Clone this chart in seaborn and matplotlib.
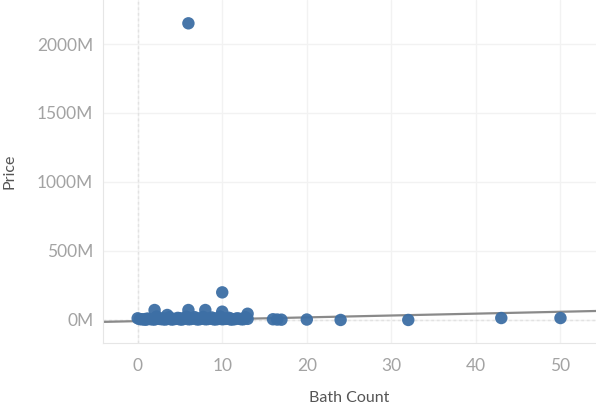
import numpy as np
import pandas as pd
import seaborn as sns
import matplotlib.pyplot as plt

# bath count vs price (in millions)
bath = [0, 0.5, 1, 1, 1.5, 2, 2, 2.5, 3, 3, 3.5, 4, 4, 4.5, 5, 5, 5.5, 6, 6,
        6.5, 7, 7, 7.5, 8, 8, 8.5, 9, 9, 9.5, 10, 10, 10.5, 11, 11, 11.5, 12,
        12.5, 13, 0.25, 0.75, 1.25, 1.75, 2.25, 2.75, 3.25, 3.75, 4.25, 4.75,
        5.25, 5.75, 6.25, 6.75, 7.25, 7.75, 8.25, 8.75, 9.25, 9.75, 10.25,
        10.75, 11.25, 11.75, 12.25, 12.75,
        2, 3.5, 6, 8, 10, 13, 6, 10, 16, 16.5, 17, 20, 24, 32, 43, 50]
price_m = [12, 5, 8, 2, 6, 10, 3, 8, 5, 12, 7, 10, 3, 8, 12, 4, 9, 14, 5,
           10, 12, 4, 8, 12, 5, 9, 11, 4, 7, 12, 5, 8, 10, 3, 6, 9,
           5, 8, 6, 3, 10, 4, 25, 6, 3, 20, 5, 15, 3, 24, 6, 20, 4, 22,
           6, 18, 4, 25, 7, 16, 4, 12, 5, 20,
           72, 36, 72, 72, 60, 45, 2150, 200, 5, 3, 2, 3, 0, 0, 14, 14]

# trend line endpoints (millions)
trend_x = [-4.1, 54.2]
trend_y = [-14, 65]

y_ticks = [0, 500, 1000, 1500, 2000]
x_ticks = [0, 10, 20, 30, 40, 50]

df = pd.DataFrame({"Bath Count": bath, "Price": price_m})
trend = pd.DataFrame({"Bath Count": trend_x, "Price": trend_y})

sns.set_style("white")
plt.rcParams["font.family"] = ["Lato", "DejaVu Sans"]

fig = plt.figure(figsize=(5.96, 4.09), dpi=100)
ax = fig.add_axes([103 / 596, 66 / 409, 493 / 596, 343 / 409])

# faint grid and zero lines
for xt in x_ticks:
    ax.axvline(xt, color="#f2f2f2", lw=1, zorder=0)
for yt in y_ticks:
    ax.axhline(yt, color="#f2f2f2", lw=1, zorder=0)
ax.axvline(0, color="#e2e2e2", lw=1, ls=(0, (2, 2)), zorder=0)
ax.axhline(0, color="#e2e2e2", lw=1, ls=(0, (2, 2)), zorder=0)

sns.lineplot(data=trend, x="Bath Count", y="Price", color="#8a8a8a",
             lw=1.6, ax=ax, zorder=2)
sns.scatterplot(data=df, x="Bath Count", y="Price", color="#3d6fa5",
                s=80, edgecolor="none", alpha=0.95, ax=ax, zorder=3)

ax.set_xlim(-4.1, 54.2)
ax.set_ylim(-167, 2319)
ax.set_xticks(x_ticks)
ax.set_yticks(y_ticks)
ax.set_yticklabels([f"{v}M" for v in y_ticks])
ax.tick_params(axis="both", length=0, labelsize=12.5, colors="#a3a3a3")
ax.tick_params(axis="y", pad=7)
ax.tick_params(axis="x", pad=11)

ax.set_xlabel("Bath Count", fontsize=11.5, color="#555555", labelpad=12)
ax.set_ylabel("Price", fontsize=11.5, color="#555555", labelpad=15)

for side in ["top", "right"]:
    ax.spines[side].set_visible(False)
ax.spines["left"].set_color("#e6e6e6")
ax.spines["bottom"].set_color("#e6e6e6")

fig.savefig("out.png", dpi=100)
